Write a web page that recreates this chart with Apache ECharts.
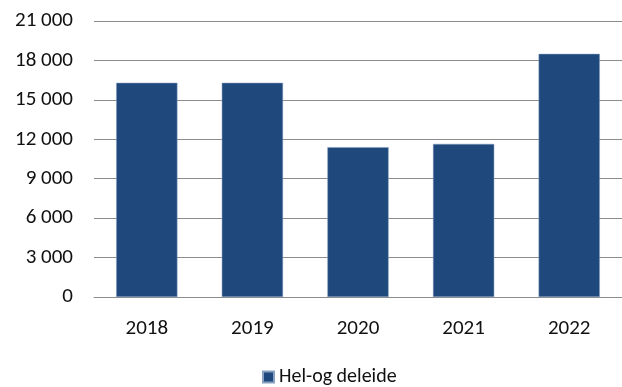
<!DOCTYPE html>
<html>
<head>
<meta charset="utf-8">
<script src="https://cdn.jsdelivr.net/npm/echarts@6/dist/echarts.min.js"></script>
<style>
  html, body { margin: 0; padding: 0; background: #fff; }
  #chart { width: 622px; height: 387px; }
</style>
</head>
<body>
<div id="chart"></div>
<script>
// Annual counts, whole and partly rented
const years = ['2018', '2019', '2020', '2021', '2022'];
const rented = [16300, 16300, 11400, 11650, 18500];
const seriesName = 'Hel-og deleide';

const fontFamily = 'Carlito, Lato, "Open Sans", sans-serif';

function formatThousands(v) {
  return String(v).replace(/\B(?=(\d{3})+(?!\d))/g, ' ');
}

const chart = echarts.init(document.getElementById('chart'));
chart.setOption({
  animation: false,
  grid: { left: 94, right: -2, top: 21, bottom: 90 },
  legend: {
    top: 362,
    left: 257,
    itemWidth: 11,
    itemHeight: 11,
    itemGap: 6,
    icon: 'rect',
    textStyle: { fontFamily, fontSize: 20, color: '#111' },
    data: [seriesName]
  },
  xAxis: {
    type: 'category',
    data: years,
    axisLine: { lineStyle: { color: '#8c8c8c', width: 1 } },
    axisTick: { show: false },
    axisLabel: { fontFamily, fontSize: 21, color: '#111', margin: 21 }
  },
  yAxis: {
    type: 'value',
    min: 0,
    max: 21000,
    interval: 3000,
    axisLine: { show: false },
    axisTick: { show: false },
    splitLine: { lineStyle: { color: '#8c8c8c', width: 1 } },
    axisLabel: {
      fontFamily, fontSize: 21, color: '#111', margin: 21,
      formatter: formatThousands
    }
  },
  series: [{
    name: seriesName,
    type: 'bar',
    data: rented,
    barCategoryGap: '42%',
    itemStyle: { color: '#1f497d', borderColor: '#8aa0c0', borderWidth: 0.5 }
  }]
});
</script>
</body>
</html>
